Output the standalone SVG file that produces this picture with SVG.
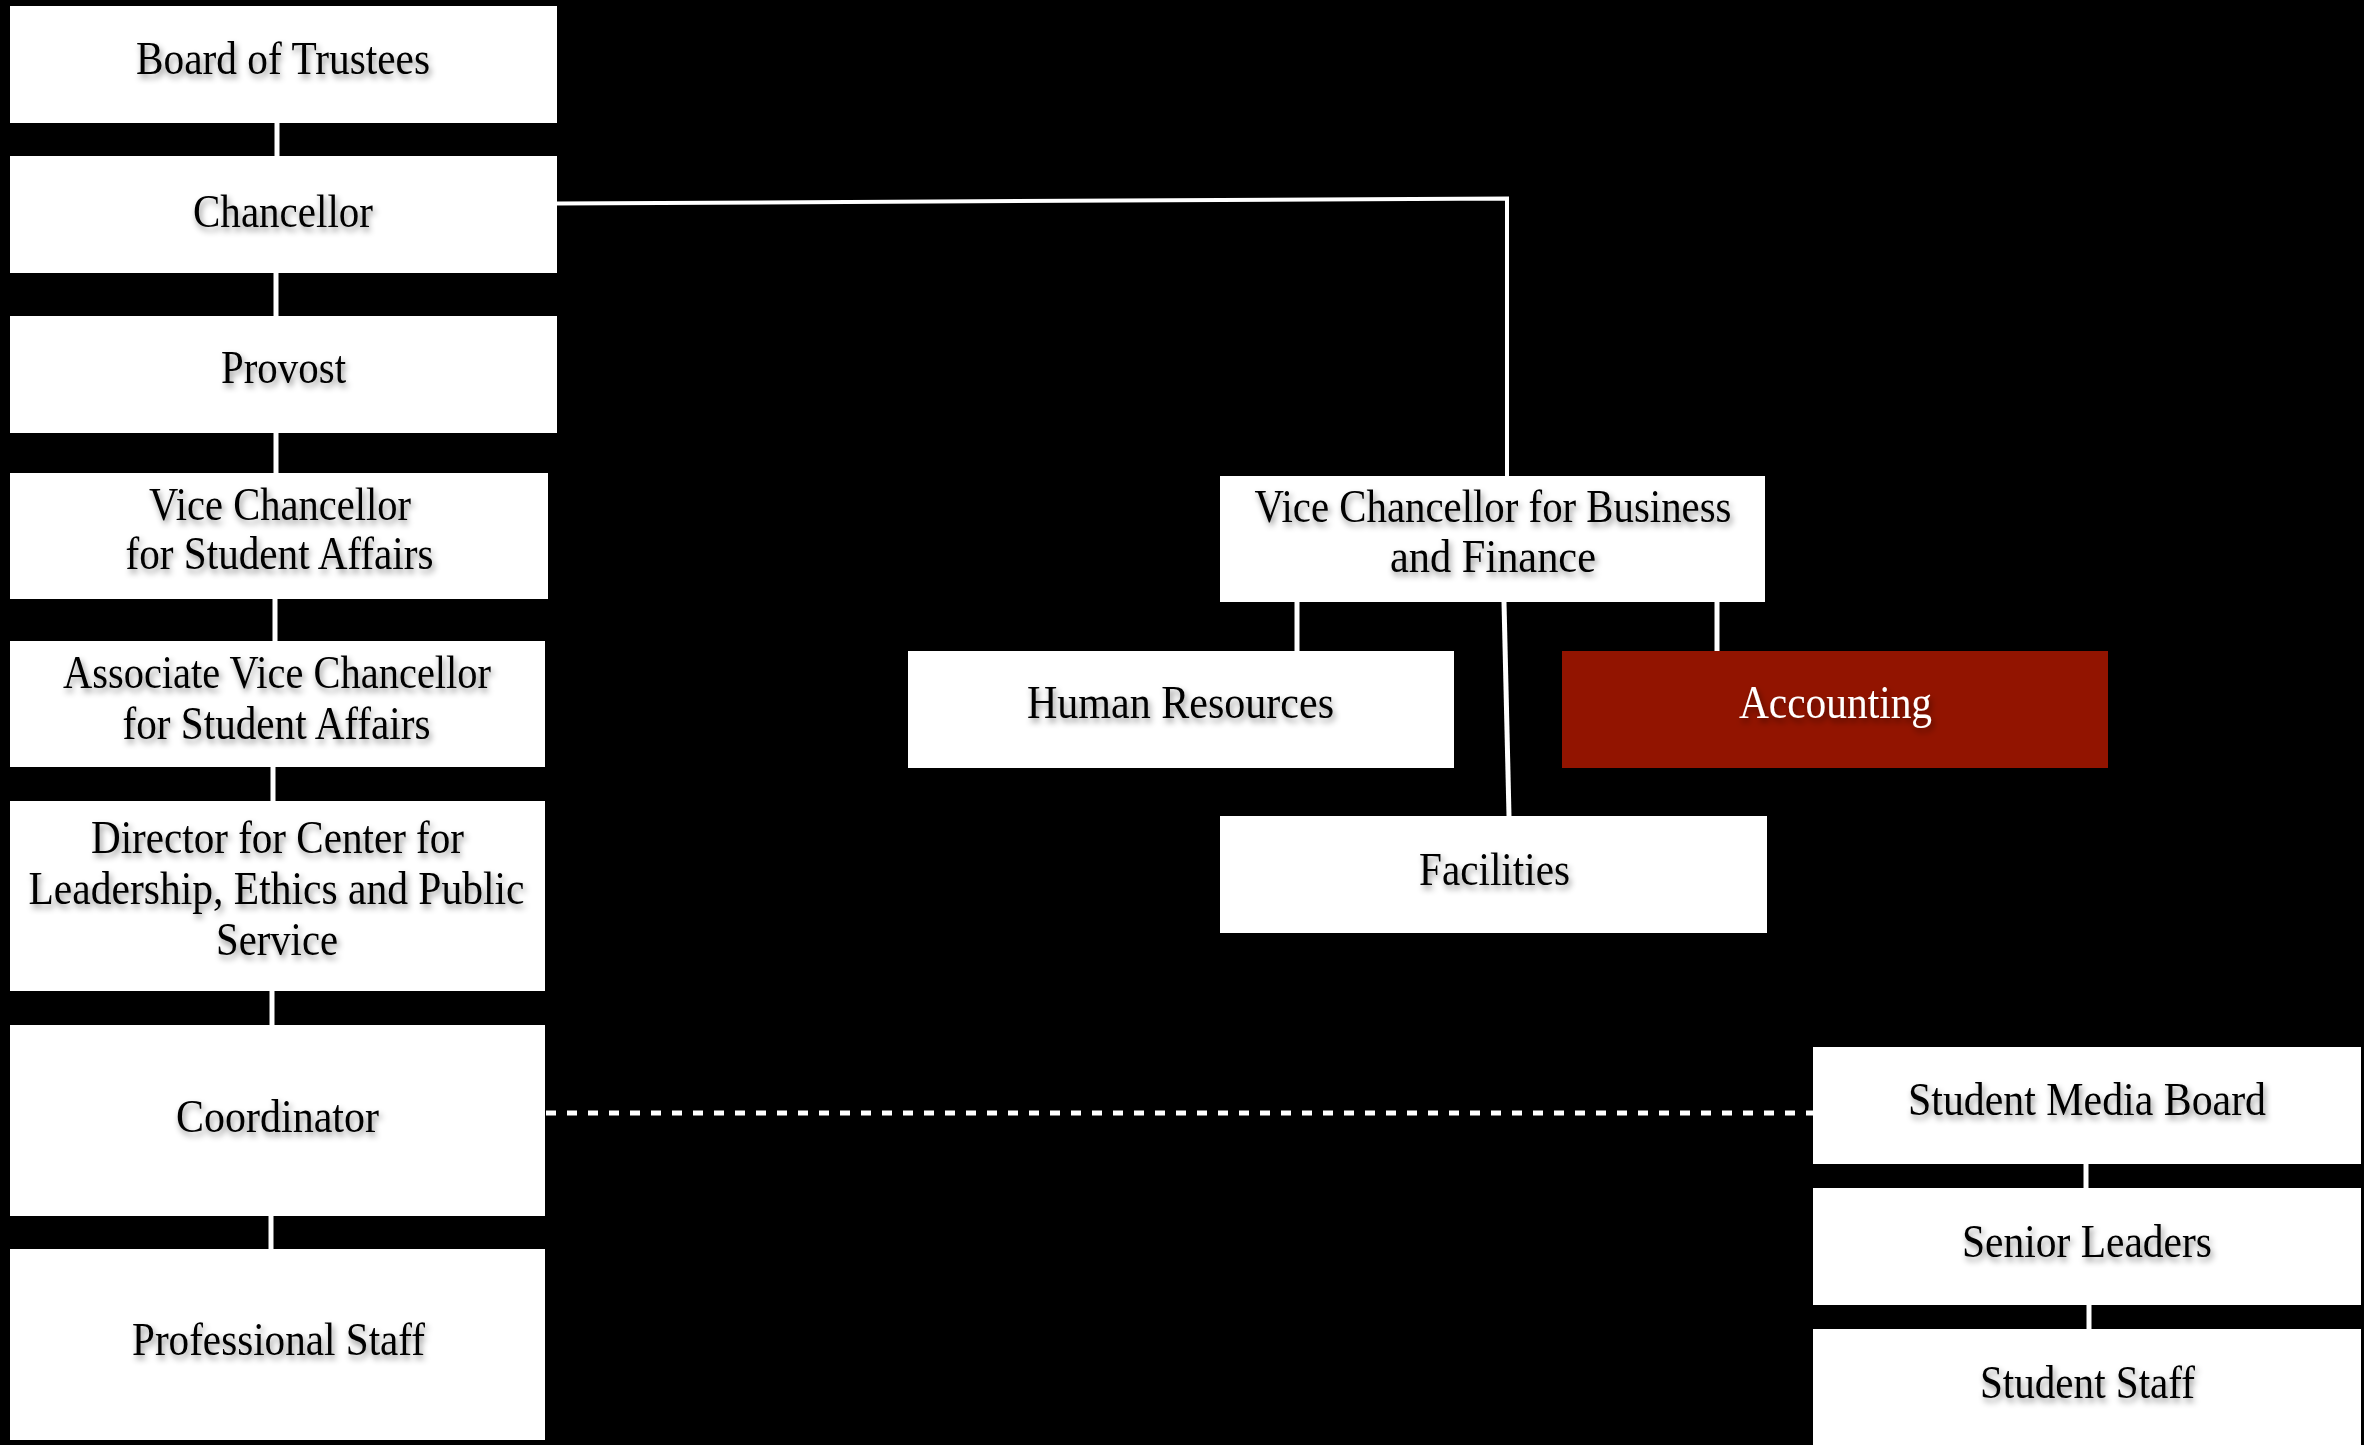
<svg xmlns="http://www.w3.org/2000/svg" width="2364" height="1445" viewBox="0 0 2364 1445">
<defs>
<filter id="ts" x="-10%" y="-40%" width="120%" height="180%">
<feDropShadow dx="2" dy="4" stdDeviation="3" flood-color="#000" flood-opacity="0.45"/>
</filter>
<style>
.box{fill:#ffffff}
.red{fill:#921400}
.t{font-family:"Liberation Serif","Times New Roman",serif;font-size:46px;fill:#000;text-anchor:middle;filter:url(#ts)}
.tw{fill:#ffffff}
.c{stroke:#ffffff;stroke-width:5;fill:none}
.d{stroke:#ffffff;stroke-width:5;fill:none;stroke-dasharray:10 11}
</style>
</defs>
<rect x="0" y="0" width="2364" height="1445" fill="#000"/>
<g id="connectors">
<line class="c" x1="277" y1="123" x2="277" y2="156"/>
<line class="c" x1="276" y1="273" x2="276" y2="316"/>
<line class="c" x1="276" y1="433" x2="276" y2="473"/>
<line class="c" x1="275" y1="599" x2="275" y2="641"/>
<line class="c" x1="273" y1="767" x2="273" y2="801"/>
<line class="c" x1="272" y1="991" x2="272" y2="1025"/>
<line class="c" x1="271" y1="1216" x2="271" y2="1249"/>
<polyline class="c" style="stroke-width:4" points="557,203.5 1507,198.5 1507,476"/>
<line class="c" x1="1297" y1="602" x2="1297" y2="651"/>
<line class="c" x1="1717" y1="602" x2="1717" y2="651"/>
<line class="c" x1="1504" y1="602" x2="1509" y2="816"/>
<line class="d" x1="546" y1="1113" x2="1813" y2="1113"/>
<line class="c" x1="2086" y1="1164" x2="2086" y2="1188"/>
<line class="c" x1="2089" y1="1305" x2="2089" y2="1329"/>
</g>
<g id="board">
<rect class="box" x="10" y="6" width="547" height="117"/>
<text class="t" x="283" y="74" textLength="294" lengthAdjust="spacingAndGlyphs">Board of Trustees</text>
</g>
<g id="chancellor">
<rect class="box" x="10" y="156" width="547" height="117"/>
<text class="t" x="283" y="227" textLength="180" lengthAdjust="spacingAndGlyphs">Chancellor</text>
</g>
<g id="provost">
<rect class="box" x="10" y="316" width="547" height="117"/>
<text class="t" x="283.5" y="383" textLength="125" lengthAdjust="spacingAndGlyphs">Provost</text>
</g>
<g id="vc-student-affairs">
<rect class="box" x="10" y="473" width="538" height="126"/>
<text class="t" x="280" y="520" textLength="262" lengthAdjust="spacingAndGlyphs">Vice Chancellor</text>
<text class="t" x="279.5" y="569" textLength="308" lengthAdjust="spacingAndGlyphs">for Student Affairs</text>
</g>
<g id="avc-student-affairs">
<rect class="box" x="10" y="641" width="535" height="126"/>
<text class="t" x="277" y="688" textLength="428" lengthAdjust="spacingAndGlyphs">Associate Vice Chancellor</text>
<text class="t" x="276.5" y="739" textLength="308" lengthAdjust="spacingAndGlyphs">for Student Affairs</text>
</g>
<g id="director">
<rect class="box" x="10" y="801" width="535" height="190"/>
<text class="t" x="277.5" y="853" textLength="373" lengthAdjust="spacingAndGlyphs">Director for Center for</text>
<text class="t" x="276.5" y="904" textLength="496" lengthAdjust="spacingAndGlyphs">Leadership, Ethics and Public</text>
<text class="t" x="277" y="955" textLength="122" lengthAdjust="spacingAndGlyphs">Service</text>
</g>
<g id="coordinator">
<rect class="box" x="10" y="1025" width="535" height="191"/>
<text class="t" x="277.5" y="1132" textLength="203" lengthAdjust="spacingAndGlyphs">Coordinator</text>
</g>
<g id="professional-staff">
<rect class="box" x="10" y="1249" width="535" height="191"/>
<text class="t" x="278.5" y="1355" textLength="293" lengthAdjust="spacingAndGlyphs">Professional Staff</text>
</g>
<g id="vc-business-finance">
<rect class="box" x="1220" y="476" width="545" height="126"/>
<text class="t" x="1493" y="522" textLength="477" lengthAdjust="spacingAndGlyphs">Vice Chancellor for Business</text>
<text class="t" x="1493" y="572" textLength="206" lengthAdjust="spacingAndGlyphs">and Finance</text>
</g>
<g id="human-resources">
<rect class="box" x="908" y="651" width="546" height="117"/>
<text class="t" x="1180.5" y="718" textLength="307" lengthAdjust="spacingAndGlyphs">Human Resources</text>
</g>
<g id="accounting">
<rect class="red" x="1562" y="651" width="546" height="117"/>
<text class="t tw" x="1835.5" y="718" textLength="193" lengthAdjust="spacingAndGlyphs">Accounting</text>
</g>
<g id="facilities">
<rect class="box" x="1220" y="816" width="547" height="117"/>
<text class="t" x="1494.5" y="885" textLength="151" lengthAdjust="spacingAndGlyphs">Facilities</text>
</g>
<g id="student-media-board">
<rect class="box" x="1813" y="1047" width="548" height="117"/>
<text class="t" x="2087" y="1115" textLength="358" lengthAdjust="spacingAndGlyphs">Student Media Board</text>
</g>
<g id="senior-leaders">
<rect class="box" x="1813" y="1188" width="548" height="117"/>
<text class="t" x="2087" y="1257" textLength="250" lengthAdjust="spacingAndGlyphs">Senior Leaders</text>
</g>
<g id="student-staff">
<rect class="box" x="1813" y="1329" width="548" height="125"/>
<text class="t" x="2087.5" y="1398" textLength="215" lengthAdjust="spacingAndGlyphs">Student Staff</text>
</g>
</svg>
